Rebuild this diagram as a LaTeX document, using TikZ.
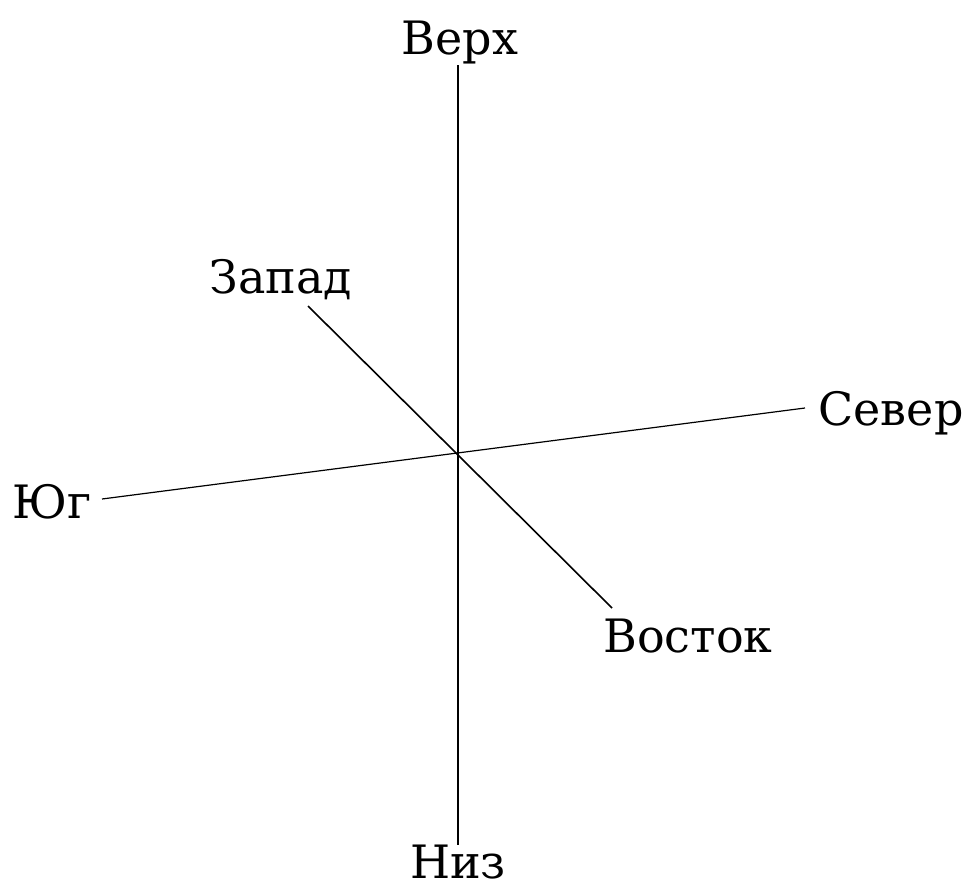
\documentclass[tikz,border=0pt]{standalone}
\usepackage{fontspec}
\setmainfont{DejaVu Serif}
\begin{document}
\begin{tikzpicture}[x=1pt,y=-1pt,
  lbl/.style={anchor=base,inner sep=0pt,font=\fontsize{46}{52}\selectfont},
  axis/.style={line width=1.2pt,black},
  axisb/.style={line width=1.6pt,black}]
\useasboundingbox (0,0) rectangle (964,889);
\coordinate (top) at (458,65);
\coordinate (bot) at (458,845);
\coordinate (s) at (102,499);
\coordinate (n) at (805,408);
\coordinate (w) at (308,306);
\coordinate (e) at (612,608);
\draw[axis] (top) -- (bot);
\draw[axis] (s) -- (n);
\draw[axisb] (w) -- (e);
\node[lbl] (verh) at (460,54) {Верх};
\node[lbl] (niz) at (458,878) {Низ};
\node[lbl] (zapad) at (281,293) {Запад};
\node[lbl] (sever) at (891,425) {Север};
\node[lbl] (yug) at (52,518) {Юг};
\node[lbl] (vostok) at (688,652) {Восток};
\end{tikzpicture}
\end{document}
